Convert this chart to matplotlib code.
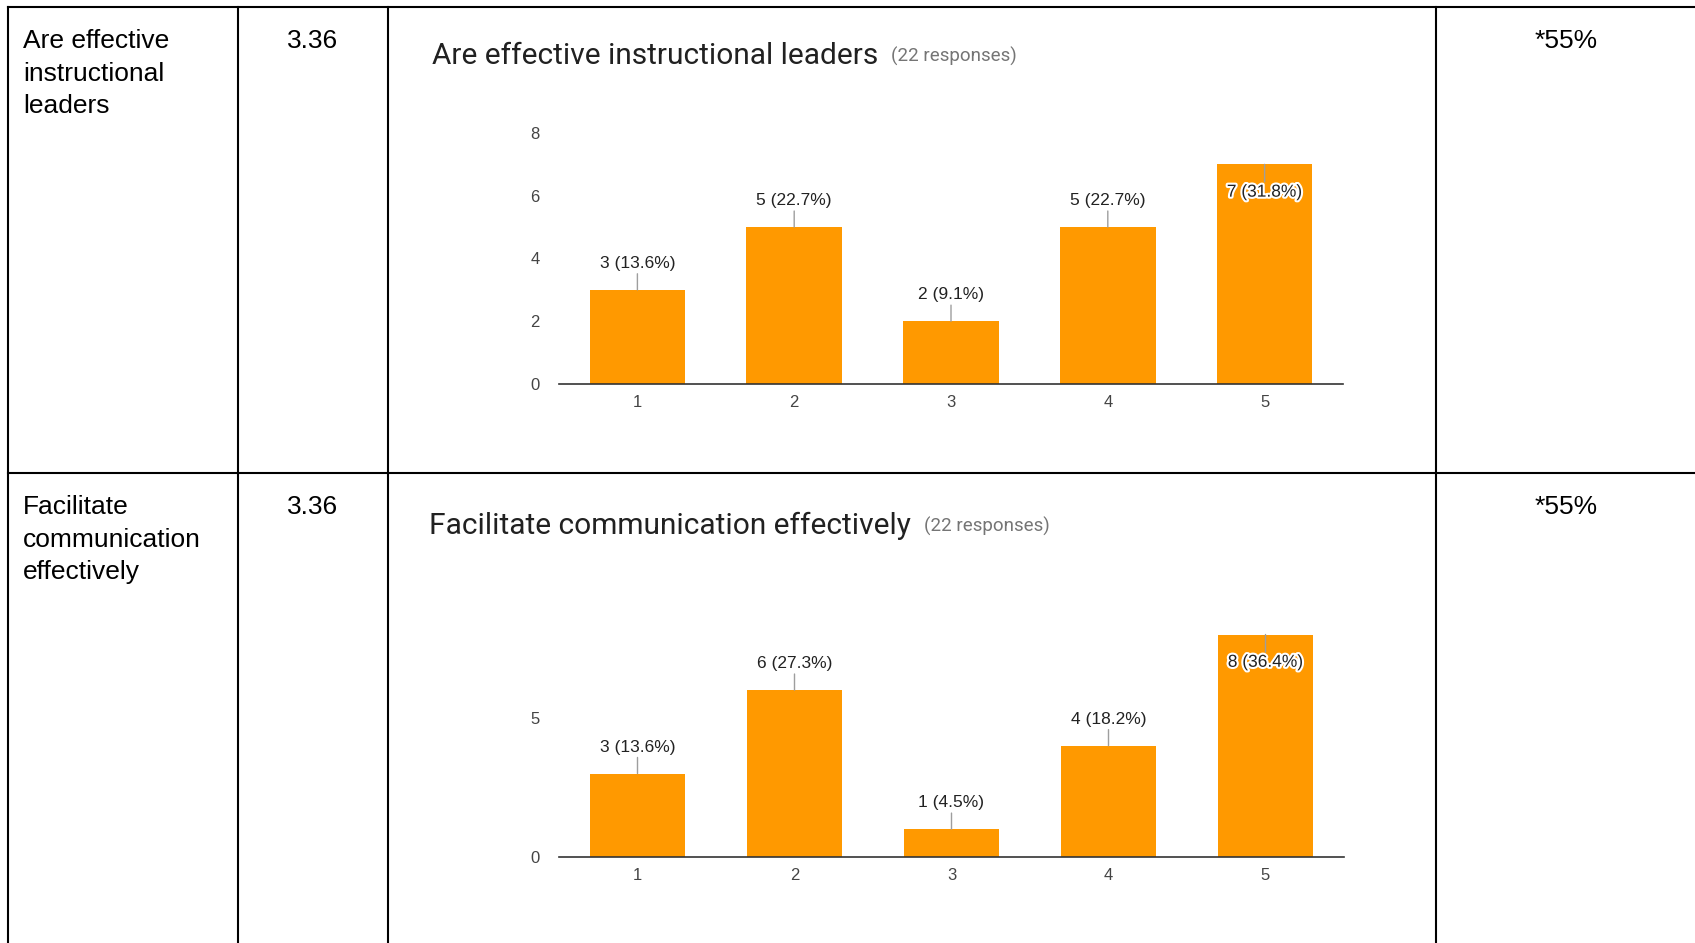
import matplotlib
matplotlib.use("Agg")
import matplotlib.pyplot as plt
from matplotlib.lines import Line2D
import matplotlib.patheffects as pe

# ---------------- data ----------------
row_labels = [["Are effective", "instructional", "leaders"],
              ["Facilitate", "communication", "effectively"]]
means = ["3.36", "3.36"]
pcts = ["*55%", "*55%"]
chart_titles = ["Are effective instructional leaders",
                "Facilitate communication effectively"]
responses = ["(22 responses)", "(22 responses)"]
categories = [1, 2, 3, 4, 5]
counts_leaders = [3, 5, 2, 5, 7]
pct_leaders = ["13.6", "22.7", "9.1", "22.7", "31.8"]
counts_comm = [3, 6, 1, 4, 8]
pct_comm = ["13.6", "27.3", "4.5", "18.2", "36.4"]
yticks_leaders = [0, 2, 4, 6, 8]
yticks_comm = [0, 5]

# ---------------- layout ----------------
W, H, DPI = 1695, 943, 100
fig = plt.figure(figsize=(W / DPI, H / DPI), dpi=DPI)
fig.patch.set_facecolor("white")


def fx(x):
    return x / W


def fy(y):
    return 1 - y / H


# table grid
grid_kw = dict(color="black", lw=1.5, transform=fig.transFigure, solid_capstyle="projecting")
for x in [8, 238, 388, 1436]:
    fig.add_artist(Line2D([fx(x), fx(x)], [fy(7), fy(H + 5)], **grid_kw))
for y in [7, 473]:
    fig.add_artist(Line2D([fx(8), fx(W + 5)], [fy(y), fy(y)], **grid_kw))

table_font = ["Liberation Sans", "DejaVu Sans"]
row_tops = [48.5, 514.5]
line_gap = 32.4
for r in range(2):
    for i, line in enumerate(row_labels[r]):
        fig.text(fx(23), fy(row_tops[r] + i * line_gap), line, fontsize=19,
                 family=table_font, va="baseline", ha="left", color="black")
    fig.text(fx(313), fy(row_tops[r]), means[r], fontsize=19, family=table_font,
             va="baseline", ha="center", color="black")
    fig.text(fx(1566), fy(row_tops[r]), pcts[r], fontsize=19, family=table_font,
             va="baseline", ha="center", color="black")

chart_font = ["Roboto", "DejaVu Sans"]
label_font = ["Liberation Sans", "DejaVu Sans"]
ORANGE = "#ff9900"

charts = [
    dict(counts=counts_leaders, pcts=pct_leaders, yticks=yticks_leaders,
         rect=[fx(559), fy(384), (1343 - 559) / W, (384 - 133) / H],
         title_xy=(432, 56)),
    dict(counts=counts_comm, pcts=pct_comm, yticks=yticks_comm,
         rect=[fx(559), fy(857), (1344 - 559) / W, (857 - 634.5) / H],
         title_xy=(429, 526)),
]

titles = []
for k, ch in enumerate(charts):
    ax = fig.add_axes(ch["rect"])
    ax.bar(categories, ch["counts"], width=0.61, color=ORANGE, zorder=2)
    ax.set_xlim(0.5, 5.5)
    ymax = 8
    ax.set_ylim(0, ymax)
    ax.set_xticks(categories)
    ax.set_xticklabels([str(c) for c in categories])
    ax.set_yticks(ch["yticks"])
    for s in ["top", "right", "left"]:
        ax.spines[s].set_visible(False)
    ax.spines["bottom"].set_color("#333333")
    ax.spines["bottom"].set_linewidth(1.2)
    ax.tick_params(axis="both", length=0, labelsize=12, labelcolor="#444444")
    ax.tick_params(axis="x", pad=8)
    ax.tick_params(axis="y", pad=14)
    for lab in ax.get_xticklabels() + ax.get_yticklabels():
        lab.set_family(label_font)
    ax.patch.set_alpha(0)

    for c, v, p in zip(categories, ch["counts"], ch["pcts"]):
        inside = v > ymax - 1.2
        off = -20 if inside else 19
        txt = ax.annotate(f"{v} ({p}%)", xy=(c, v), xytext=(0, off),
                          textcoords="offset points", ha="center", va="center",
                          fontsize=12.5, color="#222222", family=label_font,
                          arrowprops=dict(arrowstyle="-", color="#9e9e9e", lw=1,
                                          shrinkA=0, shrinkB=0),
                          zorder=3)
        if inside:
            txt.set_path_effects([pe.withStroke(linewidth=3, foreground="white")])

    tx, ty = ch["title_xy"]
    t = fig.text(fx(tx), fy(ty), chart_titles[k], fontsize=21.5, family=chart_font,
                 color="#212121", va="center", ha="left")
    titles.append(t)

fig.canvas.draw()
renderer = fig.canvas.get_renderer()
for k, t in enumerate(titles):
    bb = t.get_window_extent(renderer)
    x_end = bb.x1 / W
    fig.text(x_end + 13 / W, t.get_position()[1], responses[k], fontsize=13.5,
             family=chart_font, color="#757575", va="center", ha="left")

fig.savefig("out.png", dpi=DPI, facecolor="white")
